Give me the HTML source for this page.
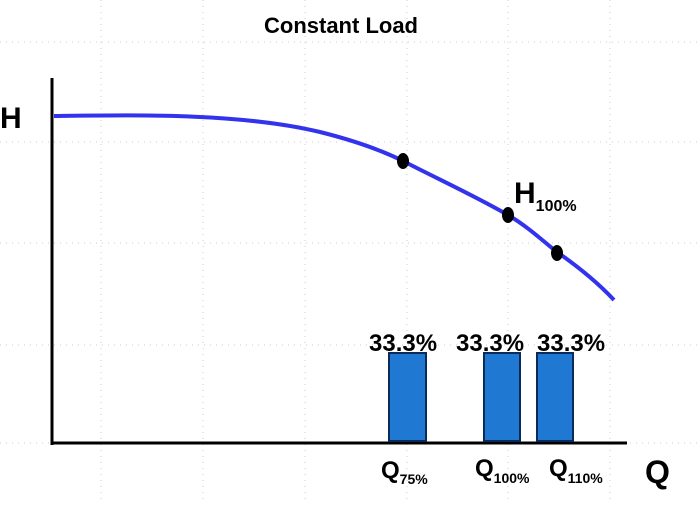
<!DOCTYPE html>
<html><head><style>body{margin:0;background:#fff}svg text{font-family:"Liberation Sans",sans-serif;font-weight:bold;fill:#000}</style></head>
<body><svg width="700" height="503" xmlns="http://www.w3.org/2000/svg">
<g stroke="#ccc" stroke-width="1" stroke-dasharray="1,5">
<line x1="0" y1="42" x2="700" y2="42"/><line x1="0" y1="142" x2="700" y2="142"/><line x1="0" y1="243" x2="700" y2="243"/><line x1="0" y1="345" x2="700" y2="345"/><line x1="0" y1="443" x2="700" y2="443"/>
<line x1="101" y1="0" x2="101" y2="503"/><line x1="203" y1="0" x2="203" y2="503"/><line x1="305" y1="0" x2="305" y2="503"/><line x1="407" y1="0" x2="407" y2="503"/><line x1="508" y1="0" x2="508" y2="503"/><line x1="610" y1="0" x2="610" y2="503"/>
</g>
<text x="341" y="33" font-size="22" text-anchor="middle">Constant Load</text>
<line x1="52" y1="78" x2="52" y2="445" stroke="#000" stroke-width="3"/>
<line x1="51" y1="443" x2="627" y2="443" stroke="#000" stroke-width="3"/>
<text x="0" y="128" font-size="30">H</text>
<text x="645" y="483" font-size="32">Q</text>
<path d="M54,116 C140,115 240,113 320,132 C360,142 385,152 403,161 C440,180 475,196 508,215 C530,228 545,243 557,252 C580,268 600,285 614,300" fill="none" stroke="#3333ee" stroke-width="4"/>
<ellipse cx="403" cy="161" rx="6" ry="8"/><ellipse cx="508" cy="215" rx="6" ry="8"/><ellipse cx="557" cy="253" rx="6" ry="8"/>
<text x="514" y="203" font-size="30">H<tspan font-size="16" dy="8">100%</tspan></text>
<g fill="#1f78d1" stroke="#0a2a5a" stroke-width="2">
<rect x="389" y="353" width="37" height="88"/><rect x="484" y="353" width="36" height="88"/><rect x="537" y="353" width="36" height="88"/>
</g>
<g font-size="24"><text x="369" y="351">33.3%</text><text x="456" y="351">33.3%</text><text x="537" y="351">33.3%</text></g>
<g font-size="24"><text x="381" y="478">Q<tspan font-size="14" dy="6">75%</tspan></text><text x="475" y="476">Q<tspan font-size="14" dy="7">100%</tspan></text><text x="549" y="476">Q<tspan font-size="14" dy="7">110%</tspan></text></g>
</svg></body></html>
